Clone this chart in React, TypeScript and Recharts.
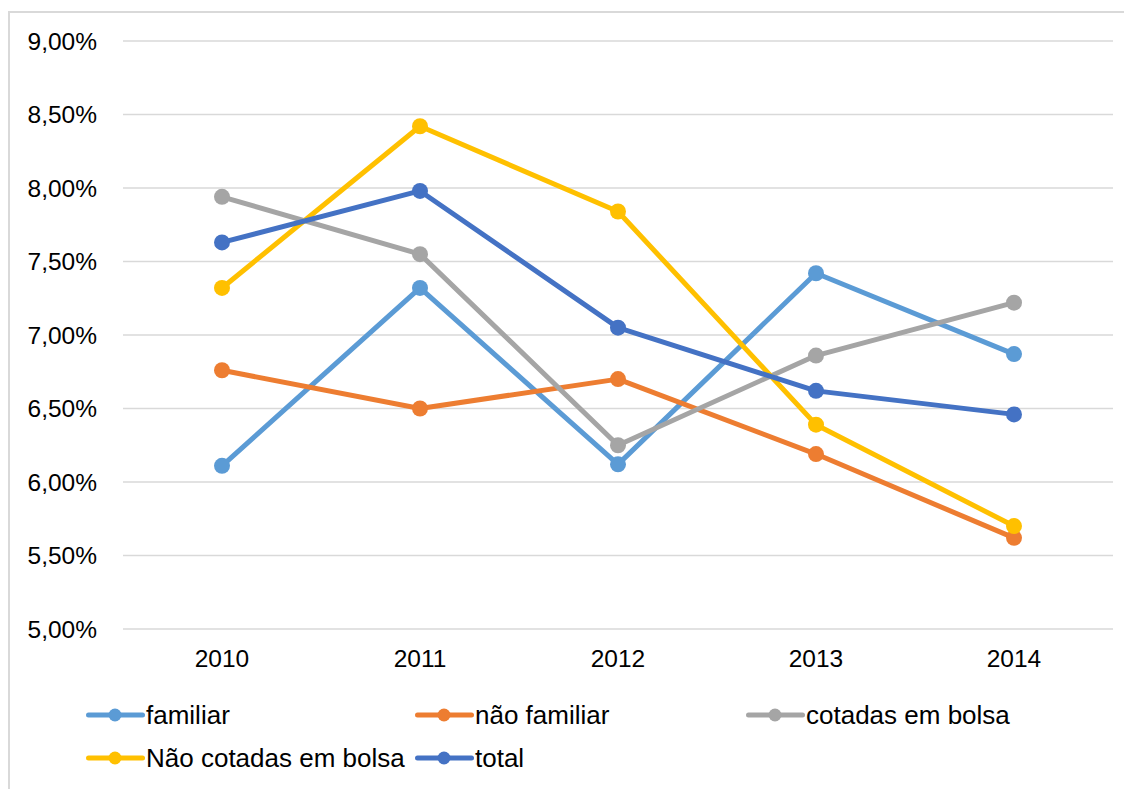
import React from 'react';
import { LineChart, Line, XAxis, YAxis, CartesianGrid } from 'recharts';

// Categories and series (values in %)
const years = ['2010', '2011', '2012', '2013', '2014'];
const familiar = [6.11, 7.32, 6.12, 7.42, 6.87];
const naoFamiliar = [6.76, 6.5, 6.7, 6.19, 5.62];
const cotadas = [7.94, 7.55, 6.25, 6.86, 7.22];
const naoCotadas = [7.32, 8.42, 7.84, 6.39, 5.7];
const total = [7.63, 7.98, 7.05, 6.62, 6.46];
const yTicks = [5, 5.5, 6, 6.5, 7, 7.5, 8, 8.5, 9];

const seriesNames = ['familiar', 'não familiar', 'cotadas em bolsa', 'Não cotadas em bolsa', 'total'];
const seriesColors = ['#5B9BD5', '#ED7D31', '#A5A5A5', '#FFC000', '#4472C4'];
const seriesValues = [familiar, naoFamiliar, cotadas, naoCotadas, total];
const seriesKeys = ['s0', 's1', 's2', 's3', 's4'];

const data = years.map((year, i) => {
  const row: Record<string, string | number> = { year };
  seriesKeys.forEach((k, s) => {
    row[k] = seriesValues[s][i];
  });
  return row;
});

const FONT = '"Liberation Sans", Arial, Helvetica, sans-serif';
const AXIS_FONT_SIZE = 24.5;
const LEGEND_FONT_SIZE = 26;

const fmtPct = (v: number) => v.toFixed(2).replace('.', ',') + '%';

// Legend slots: [left, centre y] of each item inside the chart box
const legendSlots: [number, number][] = [
  [78, 707],
  [407, 707],
  [738, 707],
  [78, 750],
  [407, 750],
];

function LegendItem({ name, color, left, top }: { name: string; color: string; left: number; top: number }) {
  return (
    <div
      style={{
        position: 'absolute',
        left,
        top: top - 17,
        height: 34,
        display: 'flex',
        alignItems: 'center',
        fontFamily: FONT,
        fontSize: LEGEND_FONT_SIZE,
        color: '#000',
        whiteSpace: 'nowrap',
      }}
    >
      <svg width={60} height={34} style={{ display: 'block' }}>
        <line x1={2.5} y1={17} x2={56.5} y2={17} stroke={color} strokeWidth={5} strokeLinecap="round" />
        <circle cx={29} cy={17} r={6.5} fill={color} />
      </svg>
      <span>{name}</span>
    </div>
  );
}

export default function App() {
  return (
    <div style={{ position: 'relative', width: 1124, height: 781, background: '#fff' }}>
      <div
        style={{
          position: 'absolute',
          left: 0,
          top: 3,
          width: 1124,
          height: 778,
          boxSizing: 'border-box',
          borderTop: '2px solid #D9D9D9',
          borderLeft: '2px solid #D9D9D9',
        }}
      />
      <div style={{ position: 'absolute', left: 0, top: 0 }}>
        <LineChart
          width={1124}
          height={700}
          data={data}
          margin={{ top: 33, right: 19, bottom: 0, left: 0 }}
        >
          <CartesianGrid vertical={false} stroke="#D9D9D9" strokeWidth={1.5} />
          <XAxis
            dataKey="year"
            height={79}
            axisLine={false}
            tickLine={false}
            tickSize={0}
            tickMargin={21}
            padding={{ left: 99, right: 99 }}
            tick={{ fill: '#000', fontSize: AXIS_FONT_SIZE, fontFamily: FONT }}
          />
          <YAxis
            width={115}
            domain={[5, 9]}
            ticks={yTicks}
            interval={0}
            axisLine={false}
            tickLine={false}
            tickSize={0}
            tickMargin={26}
            tickFormatter={fmtPct}
            tick={{ fill: '#000', fontSize: AXIS_FONT_SIZE, fontFamily: FONT }}
          />
          {seriesKeys.map((k, s) => (
            <Line
              key={k}
              dataKey={k}
              name={seriesNames[s]}
              stroke={seriesColors[s]}
              strokeWidth={5}
              strokeLinejoin="round"
              dot={{ r: 8, fill: seriesColors[s], stroke: 'none' }}
              activeDot={false}
              isAnimationActive={false}
            />
          ))}
        </LineChart>
      </div>
      {seriesNames.map((name, s) => (
        <LegendItem
          key={name}
          name={name}
          color={seriesColors[s]}
          left={legendSlots[s][0]}
          top={legendSlots[s][1]}
        />
      ))}
    </div>
  );
}
